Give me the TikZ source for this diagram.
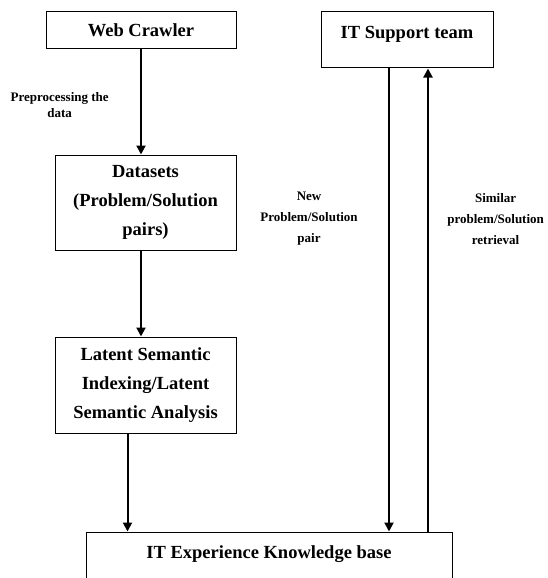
\documentclass[tikz,border=0pt]{standalone}
\usepackage{fontspec}
\setmainfont{Liberation Serif}
\usetikzlibrary{arrows.meta,positioning}

\begin{document}
\begin{tikzpicture}[
  x=1pt, y=1pt,
  block/.style={draw, line width=1pt, align=center, inner sep=4pt, font=\fontsize{18.5}{29}\selectfont\bfseries},
  note/.style={align=center, font=\fontsize{13}{21}\selectfont\bfseries},
  flow/.style={-{Triangle[length=9pt,width=9pt]}, line width=2pt}
]
\useasboundingbox (0,0) rectangle (548,-578);
\clip (0,0) rectangle (548,-578);
\node[block, minimum width=190pt, minimum height=37pt] (crawler) at (141,-30.5) {Web Crawler};
\node[block, minimum width=181pt, minimum height=95pt, below=105pt of crawler, xshift=4.5pt] (datasets) {Datasets\\(Problem/Solution\\pairs)};
\node[block, minimum width=181pt, minimum height=96pt, below=86pt of datasets] (lsi) {Latent Semantic\\Indexing/Latent\\Semantic Analysis};
\node[block, minimum width=366pt, text height=22pt, text depth=60pt, below=98pt of lsi, xshift=123.5pt] (kb) {IT Experience Knowledge base};
\node[block, minimum width=172pt, text height=23pt, text depth=25pt, below right=0pt and 84pt of crawler.north east] (support) {IT Support team};
\draw[flow] (crawler.south) -- node[note, left=28pt, pos=0.53, font=\fontsize{13}{16}\selectfont\bfseries] {Preprocessing the\\data} (crawler.south |- datasets.north);
\draw[flow] (datasets.south -| crawler.south) -- (lsi.north -| crawler.south);
\draw[flow] ([xshift=-18pt]lsi.south) -- ([xshift=-18pt]lsi.south |- kb.north);
\draw[flow] ([xshift=-18pt]support.south) -- node[note, left=27pt, pos=0.325] {New\\Problem/Solution\\pair} ([xshift=-18pt]support.south |- kb.north);
\draw[flow] ([xshift=21pt]support.south |- kb.north) -- node[note, right=15pt, pos=0.675] {Similar\\problem/Solution\\retrieval} ([xshift=21pt]support.south);
\end{tikzpicture}
\end{document}
